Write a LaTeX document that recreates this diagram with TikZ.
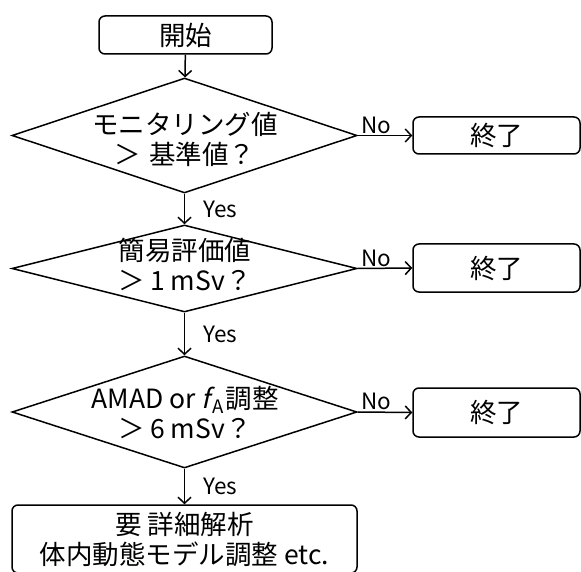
\documentclass[tikz,border=0pt]{standalone}
\usepackage{fontspec}
\setmainfont{Noto Sans CJK JP}
\newfontfamily\slantf{Noto Sans CJK JP}[FakeSlant=0.22]
\usetikzlibrary{shapes.geometric,arrows.meta}
\begin{document}
\begin{tikzpicture}[x=1pt,y=-1pt,
  line width=1.5pt,
  every node/.style={font=\fontsize{26.5}{30}\selectfont, inner sep=0pt, align=center},
  rbox/.style={draw, rounded corners=6pt, rectangle},
  dia/.style={draw, diamond, aspect=3},
  arr/.style={-{Straight Barb[length=6pt,width=13pt,line width=1.5pt]}},
  yeslab/.style={font=\fontsize{22.5}{24}\selectfont, anchor=west, xshift=18pt},
  nolab/.style={font=\fontsize{22.5}{24}\selectfont, anchor=south west, xshift=3pt, yshift=1pt}
]
\useasboundingbox (0,0) rectangle (581,572);

% start
\node[rbox, minimum width=173pt, minimum height=38pt] (start) at (185.5,35) {開始};

% decisions
\node[dia, minimum width=345pt, minimum height=115pt] (d1) at (184.5,135.5) {};
\node (t1) at (185,139) {\fontsize{26.5}{30}\selectfont モニタリング値\\＞\hspace{0.3em}基準値？};

\node[dia, minimum width=345pt, minimum height=87pt] (d2) at (184.5,268.5) {};
\node (t2) at (185,264) {\fontsize{26.5}{27}\selectfont 簡易評価値\\＞\hspace{0.2em}1 mSv？};

\node[dia, minimum width=345pt, minimum height=112pt] (d3) at (184.5,412) {};
\node (t3) at (185,413) {\fontsize{26.5}{24}\selectfont AMAD or {\slantf f}\kern2pt\textsubscript{A}\kern1.5pt 調整\\＞\hspace{0.2em}6 mSv？};

% ends
\node[rbox, minimum width=167pt, minimum height=37pt] (e1) at (496.5,135.5) {終了};
\node[rbox, minimum width=167pt, minimum height=48pt] (e2) at (496.5,268) {終了};
\node[rbox, minimum width=167pt, minimum height=49pt] (e3) at (496.5,412.5) {終了};

% final
\node[rbox, minimum width=345pt, minimum height=68pt] (fin) at (184.5,539) {\fontsize{26.5}{29}\selectfont 要 詳細解析\\体内動態モデル調整 etc.};

% connectors
\draw[arr] (start) -- (d1);
\draw[arr] (d1) -- node[yeslab]{Yes} (d2);
\draw[arr] (d2) -- node[yeslab]{Yes} (d3);
\draw[arr] (d3) -- node[yeslab]{Yes} (fin);
\draw[arr] (d1.east) -- node[nolab, pos=0]{No} (e1.west);
\draw[arr] (d2.east) -- node[nolab, pos=0]{No} (e2.west);
\draw[arr] (d3.east) -- node[nolab, pos=0]{No} (e3.west);
\end{tikzpicture}
\end{document}
